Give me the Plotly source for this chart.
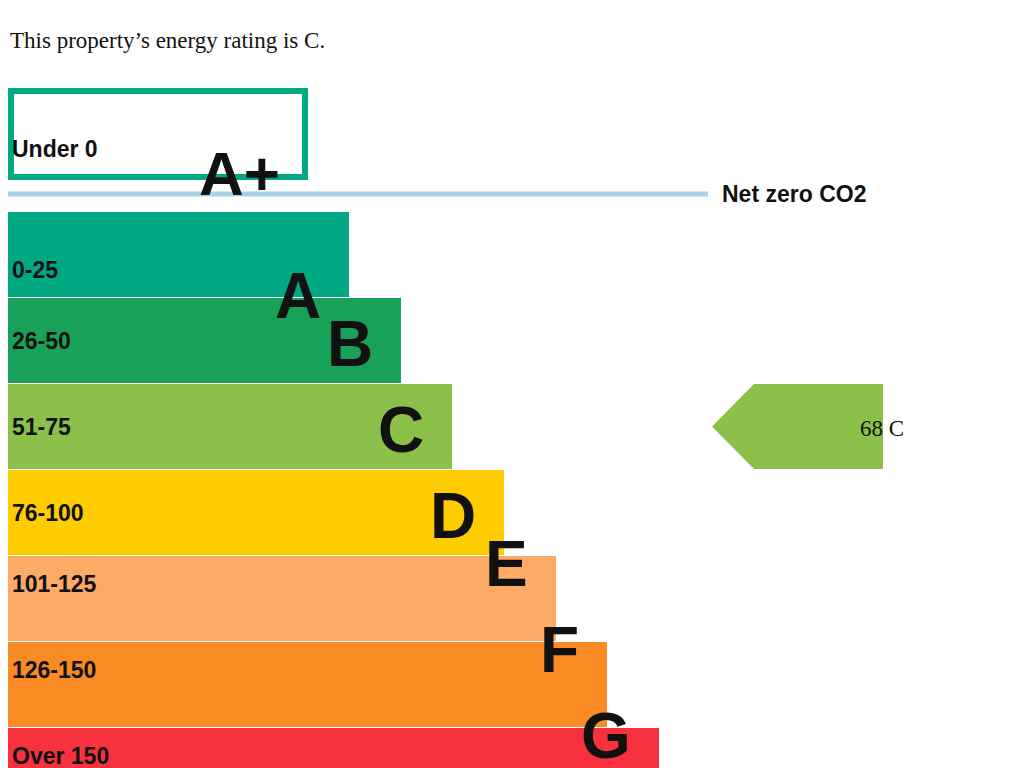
import plotly.graph_objects as go

# EPC bands (row 0 is A+, drawn as an outlined box)
bands = ["A+", "A", "B", "C", "D", "E", "F", "G"]
ranges = ["Under 0", "0-25", "26-50", "51-75", "76-100", "101-125", "126-150", "Over 150"]
bar_length = [308, 349, 401, 452, 504, 556, 607, 659]
colours = ["#00a884", "#00a884", "#19a15a", "#8cc04a", "#ffcc00", "#fcaa65", "#fa8a23", "#f7323e"]
current_score = 68
current_band = "C"

ROW_H = 86
FIRST_Y = 254.5  # centre of row A in px
OFF = 8  # page margin of the html body
Y0, Y1 = 768 + OFF, OFF


def ypaper(v):
    return (Y0 - v) / (Y0 - Y1)


fig = go.Figure()

centres = [FIRST_Y + ROW_H * (i - 1) for i in range(len(bands))]
centres[0] = 134

# coloured bars A..G
fig.add_trace(go.Bar(
    x=bar_length[1:], y=centres[1:], orientation="h", width=85,
    marker=dict(color=colours[1:], line=dict(width=0)),
    hoverinfo="skip",
))

# A+ outlined box
fig.add_shape(type="rect", x0=OFF + 3, x1=bar_length[0] - 3, y0=91, y1=177,
              line=dict(color=colours[0], width=6), fillcolor="white")

# net zero line
fig.add_shape(type="line", x0=0, x1=708, y0=194, y1=194,
              line=dict(color="#a8d3e6", width=5))
fig.add_annotation(x=720, y=194, text="<b>Net zero CO2</b>", showarrow=False,
                   xanchor="left", font=dict(family="Liberation Sans, Arial", size=23, color="#111"))

for i, b in enumerate(bands):
    fig.add_annotation(x=10, y=ypaper(centres[i]), yref="paper", text="<b>%s</b>" % ranges[i],
                       showarrow=False, xanchor="left",
                       font=dict(family="Liberation Sans, Arial", size=23, color="#111"))
    fig.add_annotation(x=bar_length[i] - 26 if i else 282, y=ypaper(centres[i] + 3), yref="paper",
                       text="<b>%s</b>" % b, showarrow=False, xanchor="right",
                       font=dict(family="Liberation Sans, Arial", size=64 if i else 62, color="#111"))

# current rating arrow
ci = bands.index(current_band)
cy = centres[ci]
fig.add_trace(go.Scatter(
    x=[712, 754, 883, 883, 754, 712], y=[cy, cy - 42.5, cy - 42.5, cy + 42.5, cy + 42.5, cy],
    fill="toself", fillcolor=colours[ci], line=dict(width=0), mode="lines", hoverinfo="skip",
))
fig.add_annotation(x=858, y=cy + 2, text="%d %s" % (current_score, current_band), showarrow=False,
                   xanchor="left", font=dict(family="Liberation Serif, Times New Roman", size=23, color="#111"))

fig.add_annotation(x=OFF, y=40, text="This property\u2019s energy rating is %s." % current_band,
                   showarrow=False, xanchor="left",
                   font=dict(family="Liberation Serif, Times New Roman", size=23, color="#111"))

fig.update_layout(
    width=1024, height=768, margin=dict(l=0, r=0, t=0, b=0),
    paper_bgcolor="white", plot_bgcolor="white", showlegend=False,
    xaxis=dict(range=[OFF, 1024 + OFF], visible=False, fixedrange=True),
    yaxis=dict(range=[Y0, Y1], visible=False, fixedrange=True),
    bargap=0,
)

fig.write_html("out.html")
